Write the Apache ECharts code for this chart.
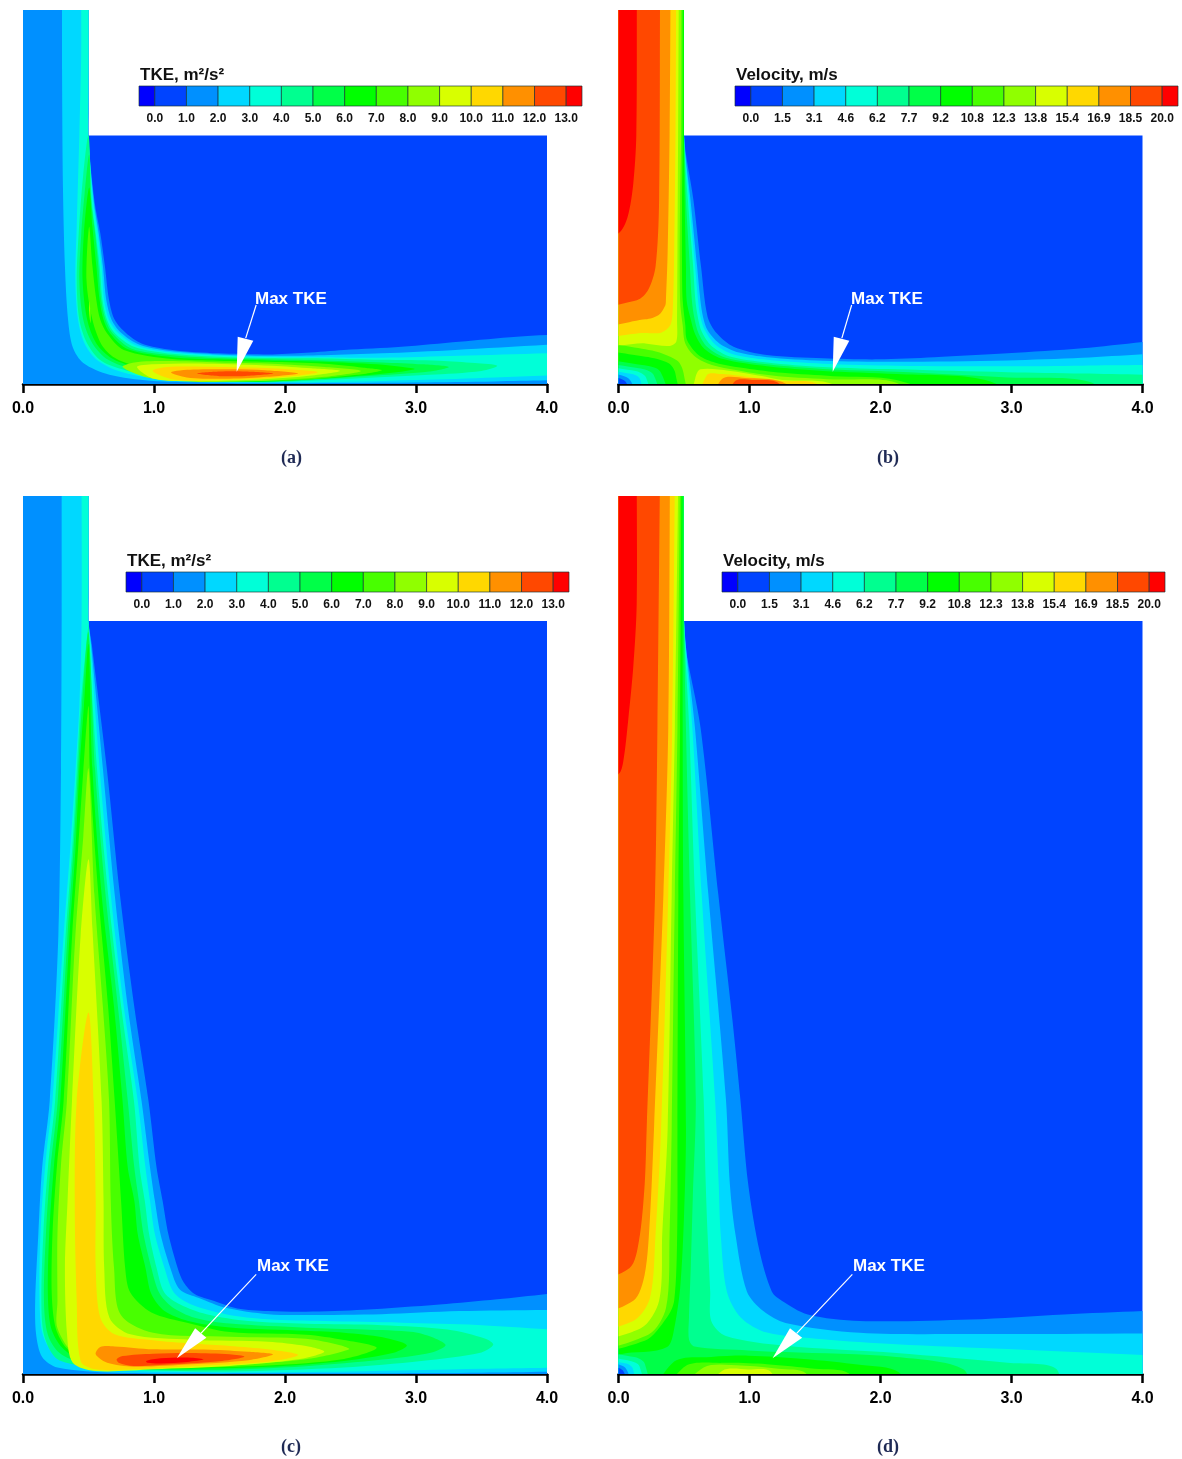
<!DOCTYPE html>
<html>
<head>
<meta charset="utf-8">
<style>
  html, body { margin: 0; padding: 0; background: #fff; }
  #chart { width: 1182px; height: 1459px; }
</style>
<script src="https://cdn.jsdelivr.net/npm/echarts@6/dist/echarts.min.js"></script>
</head>
<body>
<div id="chart"></div>
<script>
const bandColors = ['#0000ff', '#0044ff', '#0090ff', '#00d8ff', '#00ffd8', '#00ff90', '#00ff48', '#00ff00',
  '#48ff00', '#90ff00', '#d8ff00', '#ffd800', '#ff9000', '#ff4800', '#ff0000']
const legendEdges = [-0.5, 0, 1, 2, 3, 4, 5, 6, 7, 8, 9, 10, 11, 12, 13, 13.5]
const tkeTicks = ['0.0', '1.0', '2.0', '3.0', '4.0', '5.0', '6.0', '7.0', '8.0', '9.0', '10.0', '11.0', '12.0', '13.0']
const velTicks = ['0.0', '1.5', '3.1', '4.6', '6.2', '7.7', '9.2', '10.8', '12.3', '13.8', '15.4', '16.9', '18.5', '20.0']
const xTicks = ['0.0', '1.0', '2.0', '3.0', '4.0']

// contour regions, painted in order: [contour level, outline in axis units]
const tkeSmall = [
  [1, [[-.2,3],[.5,3],[.5,1.9],[.545,1.4],[.59,1.15],[.625,.9],[.657,.64],[.70,.49],[.788,.387],[.905,.31],[1.14,.26],[1.49,.234],[1.87,.226],[2.16,.239],[2.45,.26],[2.89,.285],[3.33,.323],[3.77,.361],[4.1,.378],[4.2,.38],[4.2,-.2],[-.2,-.2]]],
  [2, [[.298,3],[.5,3],[.5,1.9],[.54,1.4],[.578,1.15],[.61,.9],[.636,.64],[.677,.489],[.753,.387],[.89,.30],[1.14,.25],[1.49,.226],[1.87,.216],[2.3,.22],[2.74,.234],[3.3,.26],[4.1,.305],[4.2,.31],[4.2,.03],[4.1,.03],[3.6,.02],[3,.012],[1.87,.006],[1.43,.01],[.97,.025],[.66,.07],[.46,.16],[.38,.28],[.344,.49],[.32,.9],[.305,1.5],[.298,2.4],[.298,2.95]]],
  [3, [[.444,3],[.5,3],[.5,1.9],[.535,1.4],[.57,1.15],[.6,.9],[.62,.64],[.657,.489],[.73,.387],[.876,.29],[1.14,.24],[1.49,.218],[1.87,.207],[2.3,.205],[2.74,.2],[3.33,.215],[4.1,.238],[4.2,.24],[4.2,.07],[4.1,.068],[3.6,.05],[3,.03],[2.16,.012],[1.12,.03],[.76,.09],[.57,.18],[.47,.31],[.42,.49],[.40,.79],[.41,1.2],[.43,1.9],[.444,2.5],[.444,2.95]]],
  [4, [[.5,1.9],[.525,1.4],[.555,1.15],[.585,.9],[.607,.64],[.642,.489],[.70,.39],[.847,.285],[1.14,.23],[1.49,.208],[1.87,.198],[2.3,.195],[2.74,.185],[3.18,.178],[3.45,.16],[3.62,.14],[3.5,.10],[3.1,.07],[2.5,.04],[1.87,.014],[1.15,.036],[.8,.10],[.6,.175],[.49,.31],[.43,.49],[.41,.79],[.425,1.15],[.46,1.6]]],
  [5, [[.505,1.75],[.52,1.4],[.55,1.15],[.575,.9],[.597,.64],[.63,.49],[.685,.385],[.83,.27],[1.14,.22],[1.49,.198],[1.87,.189],[2.3,.18],[2.74,.165],[3.05,.15],[3.25,.13],[3.1,.095],[2.7,.065],[2.2,.035],[1.6,.016],[1.1,.05],[.85,.11],[.65,.185],[.53,.31],[.46,.49],[.43,.79],[.445,1.15],[.47,1.45]]],
  [6, [[.505,1.5],[.53,1.2],[.56,.9],[.585,.64],[.615,.49],[.665,.385],[.80,.265],[1.14,.205],[1.49,.188],[1.87,.18],[2.3,.17],[2.7,.15],[2.9,.13],[2.99,.115],[2.85,.09],[2.4,.05],[1.8,.018],[1.2,.045],[.9,.115],[.68,.195],[.56,.31],[.49,.49],[.455,.79],[.465,1.15]]],
  [7, [[.505,1.2],[.53,.9],[.56,.64],[.59,.49],[.64,.39],[.77,.26],[1.14,.19],[1.49,.178],[1.87,.17],[2.3,.155],[2.6,.125],[2.74,.105],[2.55,.07],[2.1,.03],[1.5,.025],[1.2,.05],[.85,.14],[.7,.2],[.6,.3],[.53,.49],[.485,.79]]],
  [8, [[.505,.63],[.515,.55],[.515,.465],[.505,.55]]],
  [8, [[.76,.13],[.85,.165],[1.1,.175],[1.5,.165],[1.9,.155],[2.3,.13],[2.58,.1],[2.3,.055],[1.8,.022],[1.3,.018],[.95,.05]]],
  [9, [[.87,.13],[1.0,.15],[1.4,.155],[1.9,.14],[2.2,.12],[2.42,.1],[2.15,.06],[1.7,.03],[1.3,.022],[1.0,.04]]],
  [10, [[.99,.1],[1.1,.13],[1.5,.13],[1.9,.12],[2.25,.09],[1.95,.05],[1.5,.03],[1.15,.035]]],
  [11, [[1.13,.09],[1.3,.11],[1.6,.112],[1.85,.105],[2.10,.08],[1.8,.05],[1.5,.04],[1.25,.05]]],
  [12, [[1.33,.08],[1.5,.095],[1.7,.095],[1.91,.08],[1.7,.062],[1.5,.06]]]
]

const velSmall = [
  [1, [[-.2,3],[.5,3],[.5,1.9],[.572,1.405],[.63,.896],[.68,.514],[.75,.387],[.878,.285],[1.133,.221],[1.56,.196],[1.98,.188],[2.41,.204],[2.97,.234],[3.54,.272],[4.1,.33],[4.2,.335],[4.2,-.2],[-.2,-.2]]],
  [2, [[-.2,3],[.5,3],[.5,1.9],[.55,1.4],[.60,.896],[.625,.64],[.645,.514],[.68,.41],[.77,.31],[.92,.24],[1.133,.205],[1.56,.178],[2.12,.17],[2.97,.18],[3.54,.2],[4.1,.232],[4.2,.235],[4.2,-.2],[-.2,-.2]]],
  [3, [[-.2,3],[.5,3],[.5,1.9],[.54,1.4],[.585,.896],[.607,.64],[.625,.514],[.66,.41],[.74,.30],[.88,.225],[1.133,.185],[1.56,.155],[2.12,.14],[2.97,.135],[3.54,.14],[4.1,.145],[4.2,.145],[4.2,-.2],[-.2,-.2]]],
  [4, [[-.2,3],[.5,3],[.5,1.9],[.53,1.4],[.57,.896],[.587,.64],[.605,.514],[.635,.40],[.71,.29],[.85,.21],[1.133,.165],[1.56,.13],[2.12,.112],[2.97,.09],[3.54,.08],[4.1,.07],[4.2,.07],[4.2,-.2],[-.2,-.2]]],
  [5, [[-.2,3],[.5,3],[.5,1.9],[.515,1.4],[.545,.896],[.56,.64],[.58,.50],[.61,.39],[.68,.28],[.82,.2],[1.133,.15],[1.56,.115],[2.12,.094],[2.97,.05],[3.6,.015],[3.8,-.2],[-.2,-.2]]],
  [6, [[-.2,3],[.5,3],[.5,1.9],[.505,1.4],[.515,.896],[.52,.64],[.55,.5],[.585,.38],[.655,.27],[.8,.19],[1.133,.135],[1.56,.1],[2.12,.076],[2.8,.03],[3.2,-.2],[-.2,-.2]]],
  [7, [[-.2,3],[.49,3],[.49,2.95],[.49,1.9],[.485,1.4],[.485,.896],[.49,.64],[.51,.45],[.523,.336],[.612,.22],[.74,.163],[.968,.12],[1.25,.085],[1.64,.06],[2.12,.03],[2.7,-.2],[-.2,-.2]]],
  [8, [[-.2,3],[.48,3],[.48,2.95],[.478,1.9],[.47,1.4],[.47,.64],[.49,.45],[.51,.31],[.586,.208],[.713,.145],[.968,.094],[1.22,.06],[1.64,.035],[2.12,.01],[2.3,-.2],[-.2,-.2]]],
  [9, [[-.2,3],[.46,3],[.46,2.95],[.455,1.9],[.45,1.0],[.447,.49],[.441,.323],[.383,.29],[.205,.31],[-.2,.336]]],
  [10, [[-.2,3],[.44,3],[.44,2.95],[.435,1.9],[.425,1.0],[.414,.565],[.396,.45],[.33,.394],[.205,.39],[-.2,.412]]],
  [11, [[-.2,3],[.397,3],[.397,2.95],[.39,1.9],[.375,1],[.362,.64],[.357,.6],[.307,.527],[.205,.494],[-.2,.488]]],
  [12, [[-.2,3],[.317,3],[.317,2.95],[.31,1.4],[.283,.896],[.226,.717],[.14,.64],[-.2,.628]]],
  [13, [[-.2,3],[.14,3],[.14,2.95],[.136,1.9],[.113,1.53],[.07,1.277],[0,1.15],[-.2,1.1]]],
  [9, [[.561,-.2],[.586,.043],[.625,.112],[.84,.102],[1.095,.061],[1.25,.03],[1.6,.01],[2,-.2]]],
  [10, [[.625,-.2],[.675,.069],[.79,.076],[1.02,.05],[1.25,.022],[1.5,.008],[1.8,-.2]]],
  [11, [[.713,-.2],[.79,.038],[.968,.046],[1.25,.015],[1.55,-.2]]],
  [12, [[.80,-.2],[.89,.022],[1.02,.03],[1.22,.008],[1.35,-.2]]],
  [7, [[-.2,-.2],[-.2,.272],[.23,.26],[.447,.18],[.497,.082],[.505,-.2]]],
  [6, [[-.2,-.2],[-.2,.221],[.205,.208],[.383,.158],[.434,.082],[.446,-.2]]],
  [5, [[-.2,-.2],[-.2,.158],[.18,.145],[.32,.094],[.37,-.2]]],
  [4, [[-.2,-.2],[-.2,.132],[.154,.12],[.268,.07],[.307,-.2]]],
  [3, [[-.2,-.2],[-.2,.107],[.128,.1],[.21,.05],[.243,-.2]]],
  [2, [[-.2,-.2],[-.2,.086],[.103,.076],[.166,.035],[.184,-.2]]],
  [1, [[-.2,-.2],[-.2,.061],[.077,.042],[.123,-.2]]],
  [0, [[-.2,-.2],[-.2,.035],[.047,.025],[.078,-.2]]]
]

const tkeLarge = [
  [1, [[-.2,7],[.5,7],[.5,5.76],[.525,5.57],[.64,4.62],[.74,3.66],[.85,2.8],[.958,2.084],[1.02,1.575],[1.066,1.32],[1.11,1.066],[1.18,.812],[1.226,.70],[1.31,.61],[1.46,.557],[1.635,.50],[1.87,.48],[2.16,.475],[2.6,.49],[3.18,.53],[3.62,.57],[4.1,.622],[4.2,.628],[4.2,-.2],[-.2,-.2]]],
  [2, [[.295,7],[.5,7],[.5,5.76],[.52,5.57],[.61,4.62],[.70,3.66],[.80,2.8],[.905,2.084],[.97,1.575],[1.007,1.32],[1.05,1.066],[1.124,.812],[1.197,.645],[1.343,.58],[1.547,.505],[1.87,.456],[2.16,.45],[2.74,.456],[3.33,.48],[4.1,.49],[4.2,.49],[4.2,.018],[4.1,.018],[3.5,.01],[2,.005],[.7,.01],[.263,.05],[.146,.13],[.10,.303],[.093,.557],[.117,1.066],[.146,1.575],[.204,2.084],[.27,3.35],[.29,4.6],[.295,5.75],[.295,6.9]]],
  [3, [[.447,7],[.5,7],[.5,5.76],[.515,5.57],[.585,4.62],[.67,3.66],[.77,2.8],[.876,2.084],[.935,1.575],[.97,1.32],[1.007,1.066],[1.08,.81],[1.153,.62],[1.285,.53],[1.547,.456],[1.87,.417],[2.3,.404],[2.89,.392],[3.47,.375],[4.1,.335],[4.2,.33],[4.2,.05],[4.1,.05],[3.5,.04],[2.5,.02],[1.5,.012],[.7,.03],[.35,.09],[.2,.2],[.14,.35],[.125,.7],[.14,1.2],[.18,1.7],[.225,2.084],[.31,3.35],[.36,4],[.40,4.6],[.43,5.1],[.447,5.75],[.447,6.9]]],
  [4, [[.5,5.72],[.505,5.57],[.565,4.62],[.65,3.66],[.75,2.8],[.847,2.084],[.89,1.575],[.93,1.32],[.963,1.066],[1.02,.81],[1.08,.62],[1.2,.53],[1.4,.456],[1.72,.404],[2.16,.383],[2.74,.373],[3.24,.34],[3.53,.27],[3.59,.225],[3.5,.165],[3.04,.1],[2.45,.05],[1.58,.02],[.85,.03],[.41,.07],[.248,.125],[.16,.3],[.14,.56],[.155,1.066],[.19,1.575],[.245,2.084],[.325,3.35],[.375,4],[.41,4.6],[.44,5.1]]],
  [5, [[.5,5.66],[.55,4.62],[.63,3.66],[.725,2.8],[.80,2.084],[.85,1.575],[.885,1.32],[.92,1.066],[.98,.81],[1.04,.62],[1.14,.51],[1.31,.43],[1.58,.385],[2.16,.354],[2.6,.34],[2.98,.32],[3.15,.27],[3.226,.22],[3.12,.165],[2.745,.11],[2.16,.06],[1.4,.03],[.8,.04],[.45,.085],[.28,.16],[.19,.3],[.16,.56],[.175,1.066],[.21,1.575],[.265,2.084],[.34,3.35],[.385,4],[.42,4.6],[.45,5.1]]],
  [6, [[.5,5.57],[.53,4.62],[.6,3.66],[.695,2.8],[.76,2.084],[.80,1.575],[.85,1.32],[.876,1.066],[.935,.81],[.98,.61],[1.08,.48],[1.26,.405],[1.58,.355],[2.16,.33],[2.45,.315],[2.745,.28],[2.93,.22],[2.83,.163],[2.45,.10],[1.87,.055],[1.2,.04],[.75,.05],[.45,.1],[.30,.2],[.215,.35],[.19,.6],[.2,1.066],[.235,1.575],[.285,2.084],[.355,3.35],[.40,4],[.43,4.6],[.465,5.1]]],
  [7, [[.5,5.1],[.51,4.62],[.575,3.66],[.65,2.8],[.70,2.084],[.75,1.3],[.78,.81],[.82,.62],[.98,.47],[1.26,.39],[1.58,.32],[2.16,.30],[2.45,.26],[2.70,.2],[2.45,.115],[1.87,.065],[1.2,.05],[.75,.06],[.45,.12],[.33,.2],[.25,.35],[.22,.6],[.225,1.066],[.26,1.6],[.31,2.084],[.375,3.35],[.42,4],[.46,4.6]]],
  [8, [[.5,4.62],[.545,3.66],[.61,2.8],[.657,2.084],[.67,1.32],[.695,.81],[.745,.455],[.993,.315],[1.577,.285],[2.16,.27],[2.42,.22],[2.49,.188],[2.16,.112],[1.577,.07],[1,.055],[.6,.07],[.4,.14],[.263,.35],[.263,.557],[.263,1.066],[.29,1.6],[.335,2.084],[.40,3.35],[.46,4.1]]],
  [9, [[.5,3.93],[.53,3.4],[.6,2.084],[.615,1.32],[.62,.81],[.66,.43],[.82,.303],[1.285,.262],[1.87,.247],[2.16,.214],[2.30,.17],[2.1,.112],[1.577,.061],[.993,.036],[.555,.023],[.38,.086],[.336,.303],[.32,.812],[.34,1.32],[.374,2.084],[.44,3.35]]],
  [10, [[.5,2.76],[.54,2.084],[.555,1.32],[.555,.81],[.59,.43],[.70,.303],[.993,.257],[1.285,.232],[1.577,.214],[1.869,.188],[2.1,.145],[1.869,.094],[1.285,.06],[.847,.036],[.555,.036],[.44,.1],[.41,.557],[.395,1.32],[.41,2.084]]],
  [11, [[.555,.15],[.59,.206],[.70,.21],[.993,.188],[1.43,.186],[1.72,.17],[1.91,.15],[1.72,.105],[1.285,.074],[.847,.056],[.642,.086]]],
  [12, [[.715,.112],[.76,.137],[.993,.155],[1.285,.16],[1.577,.15],[1.69,.132],[1.52,.1],[1.14,.074],[.847,.061],[.73,.086]]],
  [13, [[.94,.1],[1.05,.12],[1.285,.125],[1.38,.112],[1.255,.092],[1.05,.08],[.95,.086]]]
]

const velLarge = [
  [1, [[-.2,7],[.5,7],[.5,5.76],[.52,5.5],[.627,4.93],[.762,3.66],[.87,2.7],[.93,2.1],[.99,1.45],[1.076,.94],[1.17,.63],[1.246,.56],[1.445,.455],[1.84,.405],[2.69,.416],[3.4,.455],[4.1,.485],[4.2,.49],[4.2,-.2],[-.2,-.2]]],
  [2, [[-.2,7],[.5,7],[.5,5.76],[.584,4.93],[.686,3.66],[.82,2.1],[.85,1.45],[.892,1.07],[.98,.63],[1.105,.48],[1.275,.39],[1.84,.315],[2.69,.305],[4.1,.31],[4.2,.31],[4.2,-.2],[-.2,-.2]]],
  [3, [[-.2,7],[.5,7],[.5,5.76],[.564,4.93],[.635,3.66],[.737,2.1],[.765,1.45],[.78,1.07],[.827,.63],[.935,.43],[1.133,.316],[1.558,.265],[2.12,.227],[2.97,.19],[4.1,.14],[4.2,.135],[4.2,-.2],[-.2,-.2]]],
  [4, [[-.2,7],[.5,7],[.5,5.76],[.54,4.93],[.584,3.66],[.65,2.1],[.666,1.45],[.68,1.07],[.70,.63],[.708,.405],[.82,.29],[1.275,.215],[2.12,.16],[2.97,.085],[3.34,.04],[3.34,-.2],[-.2,-.2]]],
  [5, [[-.2,7],[.5,7],[.5,5.76],[.515,4.93],[.546,3.66],[.59,2.1],[.567,1.34],[.552,.82],[.538,.43],[.538,.264],[.58,.21],[.99,.18],[1.275,.167],[2.12,.13],[2.635,.034],[2.65,-.2],[-.2,-.2]]],
  [6, [[-.2,7],[.49,7],[.49,6.9],[.49,4.93],[.495,3.66],[.515,1.866],[.50,1.2],[.47,.649],[.42,.318],[.383,.216],[.28,.178],[.103,.165],[-.2,.165]]],
  [7, [[-.2,7],[.48,7],[.48,6.9],[.47,4.93],[.457,3.66],[.45,1.866],[.448,1.07],[.425,.56],[.368,.43],[.2,.254],[-.2,.23]]],
  [8, [[-.2,7],[.47,7],[.47,6.9],[.45,4.93],[.43,3.66],[.406,1.866],[.39,1.07],[.363,.505],[.227,.30],[-.2,.25]]],
  [9, [[-.2,7],[.457,7],[.457,6.9],[.43,4.93],[.406,3.66],[.375,1.866],[.334,1.07],[.31,.56],[.17,.35],[-.2,.315]]],
  [10, [[-.2,7],[.431,7],[.431,6.9],[.41,4.93],[.38,3.66],[.325,1.866],[.283,1.07],[.24,.58],[.113,.405],[-.2,.378]]],
  [11, [[-.2,7],[.393,7],[.393,6.9],[.38,4.93],[.343,3.66],[.271,1.866],[.24,1.19],[.2,.76],[.113,.56],[-.2,.493]]],
  [12, [[-.2,7],[.317,7],[.317,6.9],[.297,4.93],[.279,3.66],[.215,1.866],[.2,1.45],[.156,1.015],[.085,.81],[-.2,.743]]],
  [13, [[-.2,7],[.139,7],[.139,6.9],[.139,5.88],[.113,5.4],[.075,5.0],[.037,4.68],[0,4.58],[-.2,4.5]]],
  [6, [[.283,-.2],[.425,.095],[.708,.13],[.99,.14],[1.416,.115],[1.84,.07],[2.14,.013],[2.2,-.2]]],
  [7, [[.354,-.2],[.51,.06],[.793,.085],[1.133,.075],[1.5,.04],[1.756,.005],[1.8,-.2]]],
  [8, [[.453,-.2],[.65,.05],[.935,.065],[1.218,.04],[1.43,.005],[1.45,-.2]]],
  [9, [[.623,-.2],[.793,.025],[.99,.035],[1.16,.02],[1.218,-.2]]],
  [4, [[-.2,-.2],[-.2,.14],[.12,.13],[.2,.08],[.225,-.2]]],
  [3, [[-.2,-.2],[-.2,.115],[.09,.1],[.16,.06],[.19,-.2]]],
  [2, [[-.2,-.2],[-.2,.09],[.06,.08],[.11,.04],[.13,-.2]]],
  [1, [[-.2,-.2],[-.2,.065],[.05,.05],[.08,-.2]]],
  [0, [[-.2,-.2],[-.2,.04],[.03,.03],[.05,-.2]]]
]

// tip, two base corners, leader start, leader end, label anchor
const arrowA = [[1.631,.094],[1.639,.361],[1.758,.33],[1.78,.603],[1.70,.35],[1.771,.648]]
const arrowB = [[1.635,.094],[1.643,.361],[1.762,.33],[1.78,.603],[1.705,.35],[1.775,.648]]
const arrowC = [[1.174,.12],[1.314,.349],[1.40,.277],[1.78,.761],[1.358,.31],[1.786,.825]]
const arrowD = [[1.176,.12],[1.309,.349],[1.402,.277],[1.785,.761],[1.36,.31],[1.79,.825]]

const FONT = '"Liberation Sans", Arial, sans-serif'
const UNIT = 131

const panels = [
  { left: 23, top: 10, height: 374, wall: 1.896, regions: tkeSmall, arrow: arrowA, bar: 139, barTop: 86, ticks: tkeTicks, title: 'TKE, m²/s²', cap: '(a)', capX: 293, capY: 459 },
  { left: 618.5, top: 10, height: 374, wall: 1.896, regions: velSmall, arrow: arrowB, bar: 735, barTop: 86, ticks: velTicks, title: 'Velocity, m/s', cap: '(b)', capX: 889, capY: 459 },
  { left: 23, top: 496, height: 878, wall: 5.748, regions: tkeLarge, arrow: arrowC, bar: 126, barTop: 572, ticks: tkeTicks, title: 'TKE, m²/s²', cap: '(c)', capX: 293, capY: 1448 },
  { left: 618.5, top: 496, height: 878, wall: 5.748, regions: velLarge, arrow: arrowD, bar: 722, barTop: 572, ticks: velTicks, title: 'Velocity, m/s', cap: '(d)', capX: 889, capY: 1448 }
]

const grid = []
const xAxis = []
const yAxis = []
const series = []
const graphic = []

panels.forEach((p) => {
  const ymax = p.height / UNIT
  const idx = grid.length
  grid.push({ left: p.left, top: p.top, width: 524, height: p.height })
  xAxis.push({
    gridIndex: idx, type: 'value', min: 0, max: 4, interval: 1, offset: 1,
    splitLine: { show: false },
    axisLine: { show: true, lineStyle: { color: '#000', width: 2.5 } },
    axisTick: { show: true, length: 9, lineStyle: { color: '#000', width: 2.5 } },
    axisLabel: { margin: 16, color: '#000', fontFamily: FONT, fontWeight: 'bold', fontSize: 16,
      formatter: (v) => xTicks[v] }
  })
  yAxis.push({ gridIndex: idx, type: 'value', min: 0, max: ymax, show: false })

  const outline = [[0, 0], [4, 0], [4, p.wall], [.5, p.wall], [.5, ymax], [0, ymax]]
  const regions = [[0, outline]].concat(p.regions)
  series.push({
    type: 'custom', xAxisIndex: idx, yAxisIndex: idx, silent: true, animation: false,
    data: regions.map((r, i) => [i]),
    renderItem: (params, api) => {
      const r = regions[params.dataIndex]
      const clip = outline.map((q) => api.coord(q))
      if (params.dataIndex === 0) {
        return { type: 'polygon', shape: { points: clip }, style: { fill: bandColors[1] } }
      }
      return {
        type: 'polygon',
        shape: { points: r[1].map((q) => api.coord(q)), smooth: 0.3 },
        style: { fill: bandColors[r[0] + 1] },
        clipPath: { type: 'polygon', shape: { points: clip } }
      }
    }
  })
  series.push({
    type: 'custom', xAxisIndex: idx, yAxisIndex: idx, silent: true, animation: false, z: 5,
    data: [[0]],
    renderItem: (params, api) => {
      const a = p.arrow.map((q) => api.coord(q))
      return {
        type: 'group',
        children: [
          { type: 'line', shape: { x1: a[3][0], y1: a[3][1], x2: a[4][0], y2: a[4][1] }, style: { stroke: '#fff', lineWidth: 1.2 } },
          { type: 'polygon', shape: { points: [a[0], a[1], a[2]] }, style: { fill: '#fff' } },
          { type: 'text', style: { x: a[5][0], y: a[5][1], text: 'Max TKE', fill: '#fff', fontFamily: FONT, fontWeight: 'bold', fontSize: 17, verticalAlign: 'middle' } }
        ]
      }
    }
  })

  // colour bar
  const barIdx = grid.length
  grid.push({ left: p.bar, top: p.barTop, width: 443, height: 20 })
  xAxis.push({
    gridIndex: barIdx, type: 'value', min: -0.5, max: 13.5,
    splitLine: { show: false }, axisLine: { show: false }, axisTick: { show: false },
    axisLabel: { customValues: p.ticks.map((t, i) => i), margin: 7, color: '#111', fontFamily: FONT, fontWeight: 'bold', fontSize: 12,
      formatter: (v) => p.ticks[v] }
  })
  yAxis.push({ gridIndex: barIdx, type: 'value', min: 0, max: 1, show: false })
  series.push({
    type: 'custom', xAxisIndex: barIdx, yAxisIndex: barIdx, silent: true, animation: false,
    data: bandColors.map((c, i) => [legendEdges[i], legendEdges[i + 1]]),
    renderItem: (params, api) => {
      const a = api.coord([api.value(0), 1])
      const b = api.coord([api.value(1), 0])
      return {
        type: 'rect',
        shape: { x: a[0], y: a[1], width: b[0] - a[0], height: b[1] - a[1] },
        style: { fill: bandColors[params.dataIndex], stroke: 'rgba(20,50,50,0.65)', lineWidth: 1 }
      }
    }
  })

  graphic.push({ type: 'text', left: p.bar + 1, top: p.barTop - 19, style: { text: p.title, fill: '#111', font: 'bold 17px ' + FONT } })
  graphic.push({ type: 'text', left: p.capX - 12, top: p.capY - 10, style: { text: p.cap, fill: '#1f2a55', font: 'bold 18px "Liberation Serif", serif' } })
})

const chart = echarts.init(document.getElementById('chart'), null, { renderer: 'canvas' })
chart.setOption({ backgroundColor: '#fff', animation: false, grid, xAxis, yAxis, series, graphic })
</script>
</body>
</html>
